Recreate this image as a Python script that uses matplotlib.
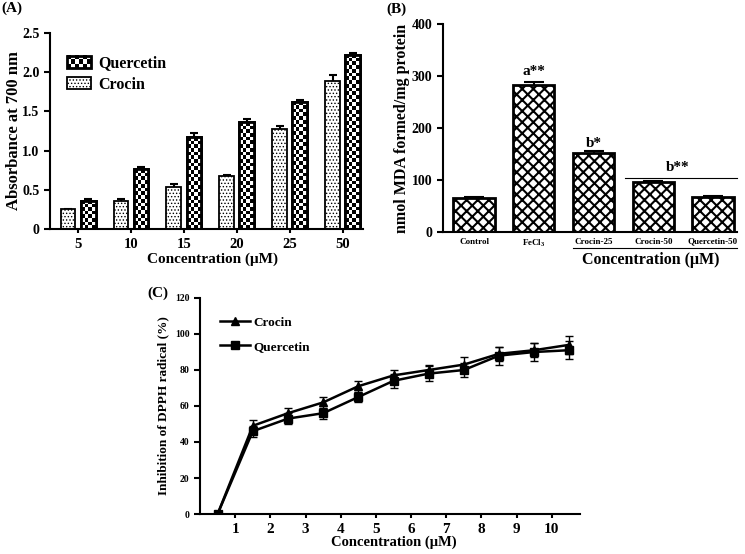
import numpy as np
import matplotlib
matplotlib.use('Agg')
import matplotlib.pyplot as plt
from matplotlib.patches import Rectangle
from matplotlib.image import BboxImage
from matplotlib.transforms import Bbox, TransformedBbox
from matplotlib.legend_handler import HandlerPatch

plt.rcParams['font.family'] = ['Liberation Serif', 'DejaVu Serif']
plt.rcParams['font.weight'] = 'bold'
plt.rcParams['axes.labelweight'] = 'bold'
plt.rcParams['mathtext.fontset'] = 'custom'
plt.rcParams['mathtext.rm'] = 'Liberation Serif:bold'
plt.rcParams['axes.linewidth'] = 1.5

# Panel A: reducing power
conc_a = ['5', '10', '15', '20', '25', '50']
crocin_a = [0.25, 0.36, 0.54, 0.68, 1.27, 1.89]
crocin_a_err = [0.01, 0.02, 0.03, 0.01, 0.04, 0.07]
querc_a = [0.36, 0.76, 1.17, 1.36, 1.62, 2.22]
querc_a_err = [0.02, 0.03, 0.05, 0.04, 0.03, 0.02]

# Panel B: MDA formation
groups_b = ['Control', 'FeCl$_3$', 'Crocin-25', 'Crocin-50', 'Quercetin-50']
mda_b = [65, 283, 151, 96, 68]
mda_b_err = [3, 5, 5, 2, 2]

# Panel C: DPPH inhibition
conc_c = [0.5, 1.5, 2.5, 3.5, 4.5, 5.5, 6.5, 7.5, 8.5, 9.5, 10.5]
crocin_c = [0, 49, 56, 62, 71, 77, 80, 83, 89, 91, 94]
crocin_c_err = [0, 3, 3, 3, 3, 3, 3, 4, 4, 4, 5]
querc_c = [0, 46, 53, 56, 65, 74, 78, 80, 88, 90, 91]
querc_c_err = [0, 3, 3, 3, 3, 4, 4, 4, 5, 5, 5]


def checker(nrows, ncols):
    return (np.indices((nrows, ncols)).sum(axis=0) % 2).astype(float)


def checker_fill(ax, bars, ncols=4):
    """fill each bar with a black/white checkerboard clipped to it"""
    for bar in bars:
        x0, y0 = bar.get_x(), bar.get_y()
        w, h = bar.get_width(), bar.get_height()
        (px0, py0), (px1, py1) = ax.transData.transform([(x0, y0), (x0 + w, y0 + h)])
        cell = (px1 - px0) / ncols
        nrows = max(1, int(round((py1 - py0) / cell)))
        img = ax.imshow(checker(nrows, ncols), cmap='gray', vmin=0, vmax=1,
                        extent=(x0, x0 + w, y0, y0 + h), aspect='auto',
                        interpolation='nearest', zorder=1.5)
        img.set_clip_path(bar)


class HandlerChecker(HandlerPatch):
    def create_artists(self, legend, orig_handle, xdescent, ydescent,
                       width, height, fontsize, trans):
        bb = TransformedBbox(Bbox.from_bounds(-xdescent, -ydescent, width, height), trans)
        img = BboxImage(bb, cmap='gray', interpolation='nearest')
        img.set_data(checker(3, 6))
        img.set_clim(0, 1)
        rect = Rectangle((-xdescent, -ydescent), width, height, fill=False,
                         edgecolor='black', lw=2, transform=trans)
        return [img, rect]


def set_hatch_lw(bars, lw):
    for b in bars:
        if hasattr(b, 'set_hatch_linewidth'):
            b.set_hatch_linewidth(lw)


fig = plt.figure(figsize=(7.45, 5.54), dpi=100)

# ---------------- (A)
ax1 = fig.add_axes([0.0671, 0.5866, 0.4199, 0.3538])
x = np.arange(len(conc_a))
bw = 0.28
ax1.set_xlim(-0.53, 5.38)
ax1.set_ylim(0, 2.5)
ax1.errorbar(x - 0.19, crocin_a, yerr=crocin_a_err, fmt='none', ecolor='black',
             elinewidth=1.5, capsize=3, capthick=1.5, zorder=0.8)
ax1.errorbar(x + 0.19, querc_a, yerr=querc_a_err, fmt='none', ecolor='black',
             elinewidth=1.5, capsize=3, capthick=1.5, zorder=0.8)
plt.rcParams['hatch.linewidth'] = 0.6
cro = ax1.bar(x - 0.19, crocin_a, bw, facecolor='white', edgecolor='black',
              lw=1.3, hatch='.....', zorder=1, label='Crocin')
set_hatch_lw(cro, 0.6)
que = ax1.bar(x + 0.19, querc_a, bw, facecolor='white', edgecolor='black',
              lw=2, zorder=1, label='Quercetin')
checker_fill(ax1, que)
ax1.bar(x + 0.19, querc_a, bw, fill=False, edgecolor='black', lw=2, zorder=3)
ax1.set_xlim(-0.53, 5.38)
ax1.set_ylim(0, 2.5)
ax1.set_xticks(x)
ax1.set_xticklabels(conc_a)
ax1.set_yticks([0, 0.5, 1.0, 1.5, 2.0, 2.5])
ax1.set_yticklabels(['0', '0.5', '1.0', '1.5', '2.0', '2.5'])
ax1.tick_params(axis='both', labelsize=10, width=1.5, length=4)
ax1.tick_params(axis='x', length=3, labelsize=10.5)
for s in ['top', 'right']:
    ax1.spines[s].set_visible(False)
ax1.set_ylabel('Absorbance at 700 nm', fontsize=12)
ax1.yaxis.set_label_coords(-0.09, 0.5)
ax1.set_xlabel('Concentration (\u03bcM)', fontsize=11)
ax1.xaxis.set_label_coords(0.52, -0.118)
ax1.legend([que, cro], ['Quercetin', 'Crocin'], loc='upper left',
           bbox_to_anchor=(0.01, 0.96), frameon=False, fontsize=11.5,
           handlelength=1.5, handleheight=0.8, handletextpad=0.4,
           labelspacing=0.35, handler_map={que: HandlerChecker()})

# ---------------- (B)
ax2 = fig.add_axes([0.5946, 0.5812, 0.3946, 0.3755])
xb = np.arange(len(groups_b))
ax2.errorbar(xb, mda_b, yerr=mda_b_err, fmt='none', ecolor='black',
             elinewidth=1.5, capsize=7, capthick=1.5, zorder=0.8)
plt.rcParams['hatch.linewidth'] = 1.5
bb_bars = ax2.bar(xb, mda_b, 0.69, facecolor='white', edgecolor='black',
                  lw=2, hatch='xxx', zorder=1)
set_hatch_lw(bb_bars, 1.5)
ax2.set_xlim(-0.52, 4.4)
ax2.set_ylim(0, 400)
ax2.set_xticks(xb)
ax2.set_xticklabels(groups_b, fontsize=6.5)
ax2.set_yticks([0, 100, 200, 300, 400])
ax2.tick_params(axis='y', labelsize=10, width=1.5, length=4)
ax2.tick_params(axis='x', length=0, pad=4)
for s in ['top', 'right']:
    ax2.spines[s].set_visible(False)
ax2.set_ylabel('nmol MDA formed/mg protein', fontsize=11.5)
ax2.yaxis.set_label_coords(-0.112, 0.5)
ax2.text(1, 308, 'a**', ha='center', va='center', fontsize=11)
ax2.text(2, 171, 'b*', ha='center', va='center', fontsize=11)
ax2.text(3.4, 125, 'b**', ha='center', va='center', fontsize=11)
ax2.plot([2.53, 4.4], [104, 104], color='black', lw=0.8, clip_on=False)
ax2.plot([1.66, 4.4], [-0.077, -0.077], color='black', lw=0.8, clip_on=False,
         transform=ax2.get_xaxis_transform())
ax2.set_xlabel('Concentration (\u03bcM)', fontsize=11.5)
ax2.xaxis.set_label_coords(0.707, -0.095)

# ---------------- (C)
ax3 = fig.add_axes([0.2685, 0.0722, 0.51, 0.3899])
c1 = ax3.errorbar(conc_c, crocin_c, yerr=crocin_c_err, color='black', lw=1.8,
                  marker='^', markersize=6, capsize=3, elinewidth=1, capthick=1)
c2 = ax3.errorbar(conc_c, querc_c, yerr=querc_c_err, color='black', lw=1.8,
                  marker='s', markersize=5.5, capsize=3, elinewidth=1, capthick=1)
ax3.set_xlim(0, 10.8)
ax3.set_ylim(0, 120)
ax3.set_xticks(range(1, 11))
ax3.set_yticks(range(0, 121, 20))
ax3.tick_params(axis='x', labelsize=11, width=1.5, length=3)
ax3.tick_params(axis='y', labelsize=7, width=1.5, length=4)
for s in ['top', 'right']:
    ax3.spines[s].set_visible(False)
ax3.set_ylabel('Inhibition of DPPH radical (%)', fontsize=9.5)
ax3.yaxis.set_label_coords(-0.08, 0.5)
ax3.set_xlabel('Concentration (\u03bcM)', fontsize=10.5)
ax3.xaxis.set_label_coords(0.51, -0.1)
ax3.legend([c1.lines[0], c2.lines[0]], ['Crocin', 'Quercetin'],
           loc='upper left', bbox_to_anchor=(0.02, 0.97), frameon=False,
           fontsize=9.5, handlelength=2.3, handletextpad=0.3, labelspacing=0.9)

fig.text(0.002, 0.997, '(A)', fontsize=11, va='top', ha='left')
fig.text(0.519, 0.995, '(B)', fontsize=11, va='top', ha='left')
fig.text(0.198, 0.483, '(C)', fontsize=11, va='top', ha='left')

fig.savefig('out.png', dpi=100)
